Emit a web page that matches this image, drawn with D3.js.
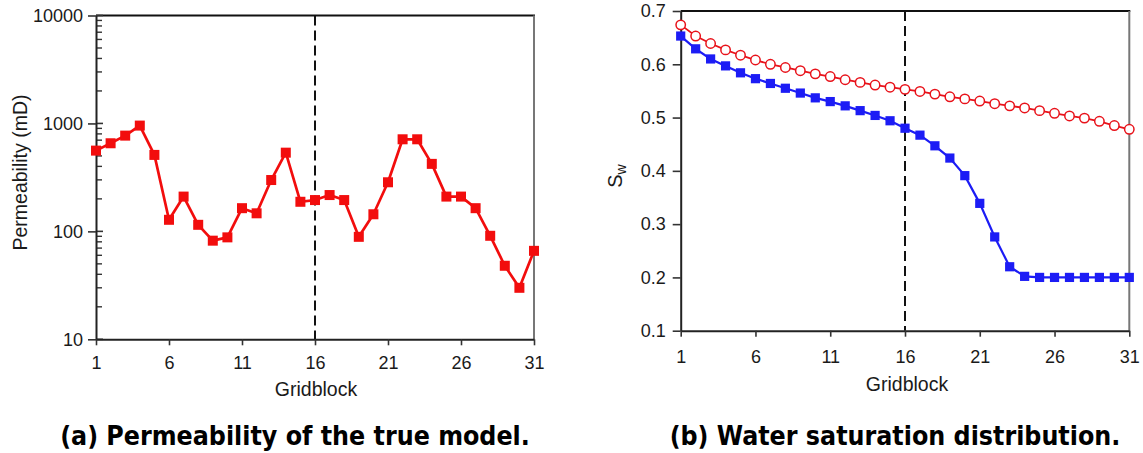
<!DOCTYPE html>
<html>
<head>
<meta charset="utf-8">
<script src="https://cdn.jsdelivr.net/npm/d3@7/dist/d3.min.js"></script>
<style>
  html, body { margin: 0; padding: 0; background: #fff; }
  svg { display: block; }
  text { font-family: "Liberation Sans", Arial, Helvetica, sans-serif; fill: #1a1a1a; }
  .caption { font-family: "DejaVu Sans", sans-serif; font-weight: bold; font-stretch: condensed; fill: #000; }
</style>
</head>
<body>
<svg id="fig" width="1143" height="453"></svg>
<script>
// Gridblock index along the 1-D reservoir model
const gridblocks = [1, 2, 3, 4, 5, 6, 7, 8, 9, 10, 11, 12, 13, 14, 15, 16,
                    17, 18, 19, 20, 21, 22, 23, 24, 25, 26, 27, 28, 29, 30, 31];

// (a) permeability of the true model, mD
const permeability = [560, 655, 771, 955, 511, 128, 210, 115, 82, 88, 164, 147, 299, 536, 188, 195,
                      217, 195, 89, 144, 285, 713, 713, 422, 210, 210, 164, 91, 48, 30, 66];

// (b) water saturation: open red circles and filled blue squares
const swCircles = [0.674, 0.653, 0.639, 0.627, 0.617, 0.608, 0.600, 0.594, 0.588, 0.582, 0.577,
                   0.571, 0.566, 0.561, 0.557, 0.553, 0.549, 0.544, 0.539, 0.535, 0.531, 0.526,
                   0.522, 0.518, 0.513, 0.508, 0.503, 0.499, 0.493, 0.485, 0.478];
const swSquares = [0.653, 0.629, 0.610, 0.597, 0.584, 0.573, 0.564, 0.555, 0.546, 0.537, 0.530,
                   0.522, 0.513, 0.504, 0.494, 0.480, 0.467, 0.447, 0.424, 0.391, 0.339, 0.276,
                   0.220, 0.202, 0.200, 0.200, 0.200, 0.200, 0.200, 0.200, 0.200];

// Tick labels
const xTicks = [1, 6, 11, 16, 21, 26, 31];
const permTicks = [10, 100, 1000, 10000];
const swTicks = [0.1, 0.2, 0.3, 0.4, 0.5, 0.6, 0.7];

// Gridblock marked by the dashed vertical line
const markedBlock = 16;

const captionA = "(a) Permeability of the true model.";
const captionB = "(b) Water saturation distribution.";

const svg = d3.select("#fig");

function frame(x, y) {
  const [x0, x1] = x.range();
  const [yb, yt] = y.range();
  // top border (dark) and right border (grey)
  svg.append("line").attr("x1", x0).attr("x2", x1 + 1).attr("y1", yt).attr("y2", yt)
    .attr("stroke", "#111").attr("stroke-width", 2);
  svg.append("line").attr("x1", x1).attr("x2", x1).attr("y1", yt).attr("y2", yb)
    .attr("stroke", "#777").attr("stroke-width", 2);
  // dashed marker line
  svg.append("line").attr("x1", x(markedBlock)).attr("x2", x(markedBlock))
    .attr("y1", yt).attr("y2", yb)
    .attr("stroke", "#111").attr("stroke-width", 2).attr("stroke-dasharray", "10,5");
}

function styleAxis(g) {
  g.select(".domain").attr("stroke", "#222").attr("stroke-width", 2);
  g.selectAll(".tick line").attr("stroke", "#333").attr("stroke-width", 1.6);
  g.selectAll(".tick text").attr("font-size", 18).attr("fill", "#1a1a1a");
}

// ---------- (a) Permeability ----------
{
  const x = d3.scaleLinear().domain([1, 31]).range([96, 534]);
  const y = d3.scaleLog().domain([10, 10000]).range([339.3, 15.5]);

  frame(x, y);

  // minor log ticks drawn inward
  const minors = y.ticks().filter(v => !permTicks.includes(v));
  svg.append("g").selectAll("line").data(minors).join("line")
    .attr("x1", x.range()[0]).attr("x2", x.range()[0] + 6)
    .attr("y1", d => y(d)).attr("y2", d => y(d))
    .attr("stroke", "#333").attr("stroke-width", 1.4);
  // major ticks also reach inside the frame
  svg.append("g").selectAll("line").data(permTicks).join("line")
    .attr("x1", x.range()[0]).attr("x2", x.range()[0] + 7)
    .attr("y1", d => y(d)).attr("y2", d => y(d))
    .attr("stroke", "#333").attr("stroke-width", 1.6);

  const gy = svg.append("g").attr("transform", `translate(${x.range()[0]},0)`)
    .call(d3.axisLeft(y).tickValues(permTicks).tickFormat(d3.format("d"))
      .tickSizeInner(8).tickSizeOuter(0).tickPadding(5));
  styleAxis(gy);

  const gx = svg.append("g").attr("transform", `translate(0,${y.range()[0]})`)
    .call(d3.axisBottom(x).tickValues(xTicks).tickFormat(d3.format("d"))
      .tickSizeInner(6).tickSizeOuter(0).tickPadding(11));
  styleAxis(gx);

  const pts = gridblocks.map((g, i) => [g, permeability[i]]);
  svg.append("path").datum(pts)
    .attr("fill", "none").attr("stroke", "#f20d0d").attr("stroke-width", 2.7)
    .attr("stroke-linejoin", "round")
    .attr("d", d3.line().x(d => x(d[0])).y(d => y(d[1])));
  svg.append("g").selectAll("rect").data(pts).join("rect")
    .attr("x", d => x(d[0]) - 5).attr("y", d => y(d[1]) - 5)
    .attr("width", 10).attr("height", 10).attr("fill", "#f20d0d");

  svg.append("text").attr("x", 316).attr("y", 396).attr("text-anchor", "middle")
    .attr("font-size", 19.5).text("Gridblock");
  svg.append("text").attr("transform", "translate(27,172.5) rotate(-90)")
    .attr("text-anchor", "middle").attr("font-size", 19.5).text("Permeability (mD)");
}

// ---------- (b) Water saturation ----------
{
  const x = d3.scaleLinear().domain([1, 31]).range([680.7, 1129.3]);
  const y = d3.scaleLinear().domain([0.1, 0.7]).range([330.7, 11]);

  frame(x, y);

  const gy = svg.append("g").attr("transform", `translate(${x.range()[0]},0)`)
    .call(d3.axisLeft(y).tickValues(swTicks).tickFormat(d3.format(".1f"))
      .tickSizeInner(8).tickSizeOuter(0).tickPadding(7));
  styleAxis(gy);

  const gx = svg.append("g").attr("transform", `translate(0,${y.range()[0]})`)
    .call(d3.axisBottom(x).tickValues(xTicks).tickFormat(d3.format("d"))
      .tickSizeInner(6).tickSizeOuter(0).tickPadding(14));
  styleAxis(gx);

  const line = d3.line().x(d => x(d[0])).y(d => y(d[1]));

  const sq = gridblocks.map((g, i) => [g, swSquares[i]]);
  svg.append("path").datum(sq)
    .attr("fill", "none").attr("stroke", "#1c1cf5").attr("stroke-width", 2.2)
    .attr("d", line);
  svg.append("g").selectAll("rect").data(sq).join("rect")
    .attr("x", d => x(d[0]) - 4.6).attr("y", d => y(d[1]) - 4.6)
    .attr("width", 9.2).attr("height", 9.2).attr("fill", "#1c1cf5");

  const ci = gridblocks.map((g, i) => [g, swCircles[i]]);
  svg.append("path").datum(ci)
    .attr("fill", "none").attr("stroke", "#e8121a").attr("stroke-width", 1.8)
    .attr("d", line);
  svg.append("g").selectAll("circle").data(ci).join("circle")
    .attr("cx", d => x(d[0])).attr("cy", d => y(d[1])).attr("r", 4.7)
    .attr("fill", "#fff").attr("stroke", "#e8121a").attr("stroke-width", 1.5);

  svg.append("text").attr("x", 907).attr("y", 391).attr("text-anchor", "middle")
    .attr("font-size", 19.5).text("Gridblock");
  const sw = svg.append("text").attr("transform", "translate(622,176) rotate(-90)")
    .attr("text-anchor", "middle").attr("font-size", 20);
  sw.append("tspan").text("S");
  sw.append("tspan").attr("font-size", 14).attr("dy", 4).text("w");
}

// ---------- captions ----------
svg.append("text").attr("class", "caption").attr("x", 295).attr("y", 445)
  .attr("text-anchor", "middle").attr("font-size", 26.5).text(captionA);
svg.append("text").attr("class", "caption").attr("x", 895).attr("y", 445)
  .attr("text-anchor", "middle").attr("font-size", 26.5).text(captionB);
</script>
</body>
</html>
